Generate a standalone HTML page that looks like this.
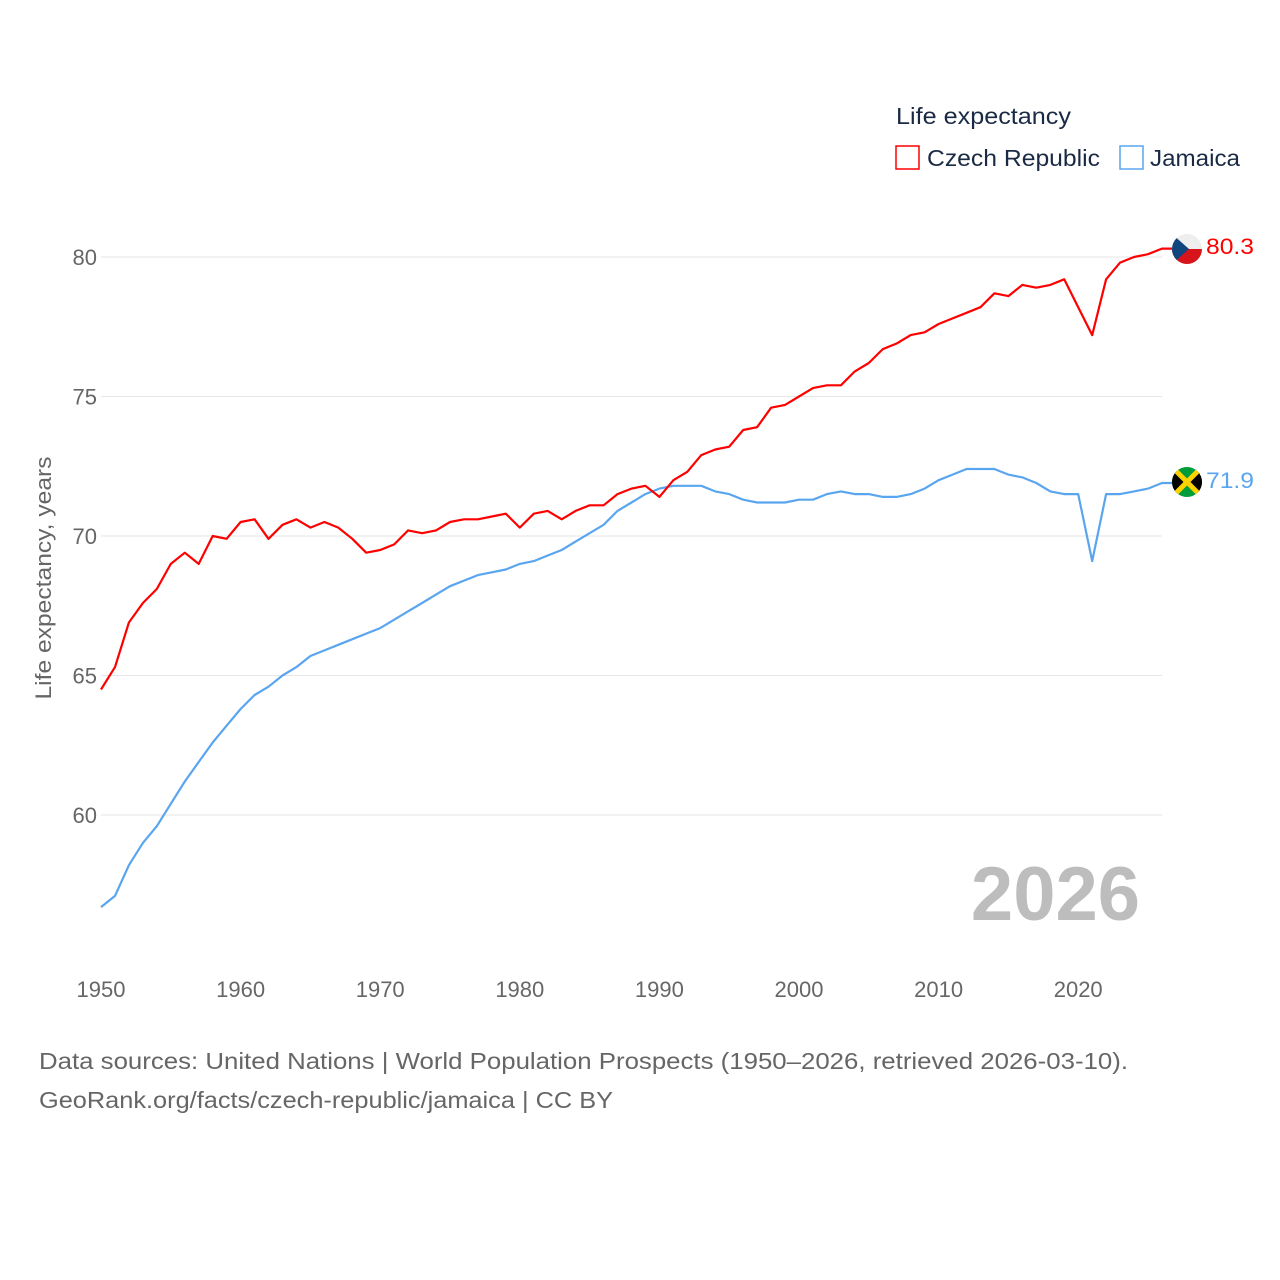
<!DOCTYPE html>
<html><head><meta charset="utf-8"><style>
body{margin:0;background:#fff;}
svg{display:block;font-family:"Liberation Sans",sans-serif;}
</style></head><body>
<svg id="chart" width="1280" height="1280" viewBox="0 0 1280 1280">
<rect width="1280" height="1280" fill="#fff"/>
<g id="grid"></g>
<g id="yticks"></g>
<g id="xticks"></g>
<text transform="translate(51,578) rotate(-90)" text-anchor="middle" font-size="22" fill="#666" textLength="243" lengthAdjust="spacingAndGlyphs">Life expectancy, years</text>
<text x="1140" y="920" text-anchor="end" font-size="76" font-weight="bold" fill="#bdbdbd">2026</text>
<g id="lines"></g>
<defs>
<clipPath id="cz"><circle cx="1187" cy="249" r="15"/></clipPath>
<clipPath id="jm"><circle cx="1187" cy="482" r="15"/></clipPath>
</defs>
<g clip-path="url(#cz)">
<rect x="1172" y="234" width="30" height="15" fill="#eee"/>
<rect x="1172" y="249" width="30" height="15" fill="#d7141a"/>
<polygon points="1172,234 1189,249 1172,264" fill="#11457e"/>
</g>
<g clip-path="url(#jm)">
<rect x="1172" y="467" width="30" height="30" fill="#009b3a"/>
<polygon points="1172,467 1187,482 1172,497" fill="#000"/>
<polygon points="1202,467 1187,482 1202,497" fill="#000"/>
<line x1="1172" y1="467" x2="1202" y2="497" stroke="#fed100" stroke-width="5"/>
<line x1="1202" y1="467" x2="1172" y2="497" stroke="#fed100" stroke-width="5"/>
</g>
<text x="1206" y="254" font-size="22" fill="#ff0000" textLength="48" lengthAdjust="spacingAndGlyphs">80.3</text>
<text x="1206" y="488" font-size="22" fill="#5aa5ef" textLength="48" lengthAdjust="spacingAndGlyphs">71.9</text>
<g>
<text x="896" y="124" font-size="23" fill="#1a2a44" textLength="175" lengthAdjust="spacingAndGlyphs">Life expectancy</text>
<g>
<rect x="896" y="146" width="23" height="23" fill="none" stroke="#ff0000" stroke-width="1.5"/>
<text x="927" y="166" font-size="23" fill="#1a2a44" textLength="173" lengthAdjust="spacingAndGlyphs">Czech Republic</text>
</g>
<g>
<rect x="1120" y="146" width="23" height="23" fill="none" stroke="#5aa5ef" stroke-width="1.5"/>
<text x="1150" y="166" font-size="23" fill="#1a2a44" textLength="90" lengthAdjust="spacingAndGlyphs">Jamaica</text>
</g>
</g>
<text x="39" y="1069" font-size="23" fill="#666" textLength="1089" lengthAdjust="spacingAndGlyphs">Data sources: United Nations | World Population Prospects (1950–2026, retrieved 2026-03-10).</text>
<text x="39" y="1108" font-size="23" fill="#666" textLength="574" lengthAdjust="spacingAndGlyphs">GeoRank.org/facts/czech-republic/jamaica | CC BY</text>
</svg>
<script>
const years=[];for(let y=1950;y<=2026;y++)years.push(y);
const czech=[64.5,65.3,66.9,67.6,68.1,69.0,69.4,69.0,70.0,69.9,70.5,70.6,69.9,70.4,70.6,70.3,70.5,70.3,69.9,69.4,69.5,69.7,70.2,70.1,70.2,70.5,70.6,70.6,70.7,70.8,70.3,70.8,70.9,70.6,70.9,71.1,71.1,71.5,71.7,71.8,71.4,72.0,72.3,72.9,73.1,73.2,73.8,73.9,74.6,74.7,75.0,75.3,75.4,75.4,75.9,76.2,76.7,76.9,77.2,77.3,77.6,77.8,78.0,78.2,78.7,78.6,79.0,78.9,79.0,79.2,78.2,77.2,79.2,79.8,80.0,80.1,80.3];
const jamaica=[56.7,57.1,58.2,59.0,59.6,60.4,61.2,61.9,62.6,63.2,63.8,64.3,64.6,65.0,65.3,65.7,65.9,66.1,66.3,66.5,66.7,67.0,67.3,67.6,67.9,68.2,68.4,68.6,68.7,68.8,69.0,69.1,69.3,69.5,69.8,70.1,70.4,70.9,71.2,71.5,71.7,71.8,71.8,71.8,71.6,71.5,71.3,71.2,71.2,71.2,71.3,71.3,71.5,71.6,71.5,71.5,71.4,71.4,71.5,71.7,72.0,72.2,72.4,72.4,72.4,72.2,72.1,71.9,71.6,71.5,71.5,69.1,71.5,71.5,71.6,71.7,71.9];
const yTicks=[60,65,70,75,80];
const xTicks=[1950,1960,1970,1980,1990,2000,2010,2020];
const xs=y=>101+(y-1950)*13.96;
const ys=v=>257+(80-v)*27.9;
const NS="http://www.w3.org/2000/svg";
const g=document.getElementById('grid'),yt=document.getElementById('yticks'),xt=document.getElementById('xticks'),ln=document.getElementById('lines');
yTicks.forEach(t=>{
 const l=document.createElementNS(NS,'line');
 l.setAttribute('x1',101);l.setAttribute('x2',1162);l.setAttribute('y1',ys(t));l.setAttribute('y2',ys(t));
 l.setAttribute('stroke','#e6e6e6');l.setAttribute('stroke-width','1');
 
 
 g.appendChild(l);
 const tx=document.createElementNS(NS,'text');
 tx.setAttribute('x',97);tx.setAttribute('y',ys(t)+8);tx.setAttribute('text-anchor','end');
 tx.setAttribute('font-size','22');tx.setAttribute('fill','#666');tx.textContent=t;
 
 
 yt.appendChild(tx);
});
xTicks.forEach(t=>{
 const tx=document.createElementNS(NS,'text');
 tx.setAttribute('x',xs(t));tx.setAttribute('y',997);tx.setAttribute('text-anchor','middle');
 tx.setAttribute('font-size','22');tx.setAttribute('fill','#666');tx.textContent=t;
 
 
 xt.appendChild(tx);
});
function draw(vals,color,name){
 const p=document.createElementNS(NS,'polyline');
 const pts=vals.map((v,i)=>xs(years[i]).toFixed(1)+','+ys(v).toFixed(1));
 pts.push('1172,'+ys(vals[vals.length-1]).toFixed(1));
 p.setAttribute('points',pts.join(' '));
 p.setAttribute('fill','none');p.setAttribute('stroke',color);p.setAttribute('stroke-width','2.2');p.setAttribute('stroke-linejoin','round');
 
 
 ln.appendChild(p);
}
draw(jamaica,'#5aa5ef','jamaica-line');
draw(czech,'#ff0000','czech-line');
</script>
</body></html>
